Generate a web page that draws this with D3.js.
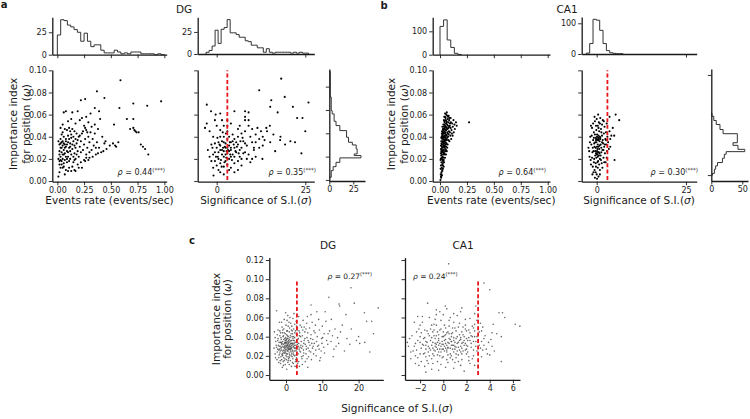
<!DOCTYPE html>
<html><head><meta charset="utf-8">
<script src="https://cdn.jsdelivr.net/npm/d3@7"></script>
<style>body{margin:0;background:#fff}</style>
</head><body>
<svg id="c" width="750" height="419"></svg>
<script>
// ---------------- DATA ----------------
const dgRatePts = [[0.59,0.091],[0.37,0.081],[0.44,0.075],[0.22,0.073],[0.26,0.074],[0.97,0.072],[0.71,0.070],[0.84,0.068],[0.58,0.066],[0.35,0.066],[0.06,0.062],[0.08,0.063],[0.14,0.062],[0.19,0.063],[0.31,0.061],[0.39,0.063],[0.27,0.058],[0.23,0.057],[0.40,0.056],[0.65,0.056],[0.71,0.056],[0.53,0.051],[0.68,0.047],[0.71,0.048],[0.72,0.046],[0.74,0.044],[0.76,0.044],[0.73,0.045],[0.78,0.033],[0.80,0.031],[0.82,0.029],[0.85,0.024],[0.57,0.035],[0.52,0.034],[0.54,0.032],[0.55,0.031],[0.46,0.029],[0.43,0.027],[0.41,0.026],[0.38,0.025],[0.36,0.024],[0.33,0.022],[0.30,0.021],[0.49,0.032],[0.45,0.036],[0.42,0.040],[0.38,0.047],[0.35,0.051],[0.32,0.049],[0.29,0.053],[0.27,0.046],[0.25,0.050],[0.21,0.055],[0.17,0.052],[0.13,0.056],[0.10,0.054],[0.05,0.051],[0.03,0.048],
[0.01,0.004],[0.02,0.008],[0.03,0.012],[0.02,0.015],[0.04,0.018],[0.01,0.020],[0.03,0.022],[0.05,0.020],[0.06,0.016],[0.07,0.025],[0.02,0.027],[0.04,0.030],[0.06,0.028],[0.08,0.031],[0.03,0.034],[0.05,0.036],[0.07,0.033],[0.09,0.027],[0.10,0.022],[0.11,0.030],[0.12,0.034],[0.08,0.038],[0.06,0.040],[0.04,0.042],[0.10,0.041],[0.13,0.039],[0.15,0.036],[0.14,0.029],[0.16,0.025],[0.12,0.020],[0.09,0.017],[0.11,0.012],[0.13,0.009],[0.08,0.010],[0.05,0.012],[0.17,0.030],[0.18,0.034],[0.19,0.027],[0.20,0.022],[0.21,0.031],[0.22,0.036],[0.20,0.040],[0.18,0.043],[0.16,0.045],[0.14,0.047],[0.12,0.045],[0.24,0.028],[0.25,0.033],[0.26,0.038],[0.23,0.043],[0.27,0.024],[0.28,0.030],[0.30,0.035],[0.29,0.040],[0.31,0.044],[0.33,0.038],[0.34,0.032],[0.32,0.028],[0.26,0.018],[0.22,0.017],[0.19,0.015],[0.17,0.020],[0.15,0.017],[0.14,0.013],[0.10,0.009],[0.07,0.006],[0.04,0.026],[0.03,0.030],[0.02,0.033],[0.01,0.036],[0.03,0.038],[0.05,0.044],[0.07,0.047],[0.09,0.046],[0.11,0.048],[0.02,0.024],[0.06,0.024],[0.08,0.022],[0.10,0.026],[0.12,0.027],[0.13,0.024],[0.15,0.022],[0.16,0.032],[0.14,0.033],[0.12,0.031],[0.10,0.035],[0.09,0.033],[0.07,0.030],[0.05,0.032],[0.04,0.035],[0.06,0.034],[0.08,0.036],[0.11,0.038],[0.13,0.042],[0.15,0.040],[0.17,0.038],[0.19,0.037],[0.21,0.041],[0.24,0.045],[0.26,0.048],[0.28,0.044],[0.22,0.026],[0.18,0.024],[0.16,0.019],[0.03,0.019],[0.05,0.024],[0.07,0.019],[0.09,0.020],[0.11,0.018],[0.02,0.018],[0.04,0.015],[0.06,0.013],[0.35,0.043],[0.37,0.035],[0.36,0.030],[0.39,0.030],[0.44,0.034],[0.30,0.026],[0.27,0.021],[0.25,0.019],[0.20,0.012],[0.23,0.012],[0.17,0.009],[0.16,0.010],[0.29,0.019]];

const dgSigPts = [[18.2,0.0925],[12.0,0.082],[19.2,0.076],[25.9,0.071],[15.4,0.073],[-2.8,0.069],[21.5,0.067],[15.1,0.067],[8.0,0.063],[9.0,0.062],[-1.6,0.063],[5.0,0.063],[-0.3,0.060],[1.0,0.061],[17.2,0.062],[22.7,0.057],[24.2,0.057],[8.0,0.055],[-3.3,0.048],[-2.8,0.052],[14.2,0.045],[25.0,0.045],[17.9,0.037],[20.8,0.036],[22.1,0.035],[19.3,0.033],[16.5,0.027],[23.9,0.025],[15.1,0.035],[12.9,0.020],[-0.9,0.005],
[-2,0.045],[-1,0.040],[-1.5,0.033],[-2.5,0.028],[-1,0.024],[-0.5,0.018],[0,0.014],[-1,0.012],[0.5,0.010],[1,0.008],[0,0.030],[0.5,0.035],[1,0.040],[1.5,0.028],[2,0.022],[2.5,0.030],[3,0.025],[3.5,0.032],[4,0.028],[2,0.035],[2.5,0.018],[3,0.015],[3.5,0.020],[4,0.035],[4.5,0.024],[5,0.030],[5.5,0.026],[6,0.033],[6.5,0.022],[7,0.030],[5,0.038],[4.5,0.042],[6,0.040],[7.5,0.036],[8,0.026],[8.5,0.032],[9,0.024],[9.5,0.040],[10,0.035],[10.5,0.028],[11,0.042],[12,0.038],[12.5,0.045],[13,0.040],[14,0.048],[15,0.050],[11.5,0.048],[10,0.047],[9,0.050],[8,0.045],[7,0.043],[6,0.047],[3,0.045],[2,0.050],[1,0.046],[0,0.050],[-0.5,0.055],[1.5,0.055],[3,0.050],[3,0.055],[4,0.052],[6.5,0.050],[8,0.058],[9,0.055],[5,0.016],[6,0.018],[7,0.014],[4,0.012],[2,0.013],[1,0.016],[0.5,0.020],[-0.5,0.026],[-0.5,0.034],[1,0.032],[1.5,0.036],[2,0.027],[2.5,0.024],[3.5,0.027],[4,0.022],[5,0.022],[3,0.038],[2,0.040],[4,0.030],[3,0.030],[1.5,0.024],[2.5,0.034],[5.5,0.035],[6.5,0.028],[7.5,0.025],[8.5,0.020],[9.5,0.017],[10,0.020],[11,0.022],[8,0.034],[7,0.020],[3.5,0.010],[5,0.008],[2,0.006],[6,0.010],[4.5,0.036],[3.5,0.040],[0.5,0.026],[-1.5,0.018],[-2,0.022],[1,0.028],[2.3,0.031],[3.7,0.035],[5.3,0.027],[6.7,0.036],[10.5,0.030],[12,0.030],[13,0.032],[11,0.035],[13.5,0.037],[16,0.042],[18,0.040],
[0.3,0.022],[1.2,0.019],[2.7,0.021],[3.2,0.028],[4.3,0.019],[5.7,0.031],[0.8,0.033],[1.8,0.030],[2.8,0.027],[3.8,0.024],[4.8,0.033],[-0.2,0.022],[1.4,0.013],[2.2,0.017],[6.2,0.025],[7.3,0.039],[2.6,0.043],[1.7,0.044],[-1.2,0.030],[0.2,0.039]];

const ca1RatePts = [[0.004,0.001],[0.011,0.003],[0.007,0.006],[0.018,0.005],[0.013,0.008],[0.022,0.009],[0.006,0.011],[0.016,0.012],[0.027,0.011],[0.009,0.014],[0.021,0.015],[0.034,0.013],[0.013,0.017],[0.028,0.018],[0.005,0.019],[0.038,0.017],[0.019,0.020],[0.024,0.022],[0.011,0.023],[0.046,0.021],[0.031,0.024],[0.008,0.025],[0.017,0.026],[0.041,0.025],[0.056,0.024],[0.026,0.027],[0.035,0.028],[0.014,0.029],[0.049,0.029],[0.063,0.027],[0.022,0.030],[0.031,0.031],[0.009,0.032],[0.044,0.032],[0.058,0.031],[0.019,0.033],[0.037,0.034],[0.027,0.035],[0.071,0.033],[0.052,0.035],[0.012,0.036],[0.043,0.037],[0.033,0.038],[0.021,0.038],[0.064,0.037],[0.087,0.036],[0.048,0.039],[0.016,0.040],[0.029,0.040],[0.039,0.041],[0.075,0.040],[0.057,0.042],[0.024,0.042],[0.096,0.041],[0.046,0.043],[0.034,0.044],[0.068,0.044],[0.019,0.045],[0.083,0.045],[0.052,0.046],[0.041,0.047],[0.107,0.046],[0.027,0.047],[0.062,0.048],[0.078,0.048],[0.036,0.049],[0.119,0.049],[0.049,0.050],[0.091,0.050],[0.031,0.051],[0.066,0.051],[0.056,0.052],[0.134,0.051],[0.043,0.053],[0.079,0.053],[0.101,0.053],[0.061,0.054],[0.037,0.055],[0.072,0.056],[0.148,0.053],[0.052,0.057],[0.088,0.057],[0.046,0.058],[0.067,0.059],[0.058,0.060],[0.081,0.059],[0.047,0.061],[0.063,0.062],[0.27,0.053],
[0.015,0.021],[0.023,0.019],[0.032,0.021],[0.012,0.027],[0.020,0.028],[0.029,0.026],[0.038,0.030],[0.047,0.027],[0.017,0.031],[0.025,0.033],[0.034,0.032],[0.042,0.034],[0.054,0.033],[0.014,0.034],[0.023,0.036],[0.031,0.036],[0.039,0.036],[0.058,0.038],[0.026,0.039],[0.035,0.039],[0.044,0.040],[0.053,0.041],[0.021,0.041],[0.031,0.043],[0.062,0.041],[0.073,0.043],[0.040,0.045],[0.049,0.044],[0.058,0.046],[0.029,0.046],[0.070,0.047],[0.086,0.049],[0.045,0.048],[0.054,0.049],[0.099,0.048],[0.074,0.050],[0.113,0.052],[0.041,0.051],[0.063,0.053],[0.085,0.055],[0.093,0.052],[0.125,0.055],[0.075,0.058],[0.099,0.057],[0.055,0.055],[0.026,0.016],[0.019,0.024],[0.036,0.025],[0.008,0.020],[0.010,0.029],[0.051,0.037],[0.066,0.039],[0.080,0.042],[0.092,0.044],[0.110,0.043],[0.047,0.031],[0.060,0.034],[0.026,0.044],[0.034,0.047],[0.041,0.054],[0.012,0.039],[0.017,0.043],[0.022,0.049],[0.040,0.058],[0.138,0.047],[0.155,0.050],[0.128,0.044],[0.117,0.041],[0.104,0.038],[0.079,0.037],[0.067,0.030],[0.055,0.028],[0.044,0.024],[0.035,0.019],[0.027,0.014],[0.020,0.010],[0.014,0.006],[0.009,0.004]];

const ca1SigPts = [[-2.3,0.030],[-2.0,0.022],[-1.8,0.040],[-1.6,0.015],[-1.5,0.033],[-1.3,0.048],[-1.2,0.026],[-1.0,0.037],[-0.9,0.008],[-0.8,0.044],[-0.7,0.020],[-0.6,0.031],[-0.5,0.054],[-0.4,0.027],[-0.3,0.039],[-0.2,0.013],[-0.1,0.035],[0.0,0.024],[0.1,0.042],[0.2,0.029],[0.3,0.050],[0.4,0.018],[0.5,0.037],[0.6,0.026],[0.7,0.045],[0.8,0.032],[0.9,0.010],[1.0,0.039],[1.1,0.023],[1.2,0.047],[1.3,0.030],[1.4,0.016],[1.5,0.041],[1.6,0.028],[1.7,0.055],[1.8,0.034],[1.9,0.021],[2.0,0.043],[2.1,0.031],[2.2,0.049],[2.3,0.025],[2.4,0.038],[2.5,0.017],[2.6,0.044],[2.7,0.033],[2.8,0.052],[2.9,0.027],[3.0,0.040],[3.2,0.035],[3.4,0.029],[3.6,0.045],[3.8,0.038],[4.1,0.041],
[0.0,0.038],[0.2,0.037],[0.4,0.039],[0.6,0.038],[0.8,0.036],[1.0,0.038],[-0.2,0.037],[0.1,0.040],[0.5,0.041],[0.9,0.040],[0.0,0.025],[0.2,0.024],[0.4,0.026],[-0.2,0.025],[0.6,0.023],[0.8,0.025],[-0.4,0.023],[0.3,0.022],[0.1,0.027],[-0.1,0.021],
[-1.1,0.030],[-0.7,0.034],[-0.3,0.030],[0.3,0.033],[0.7,0.029],[1.1,0.033],[1.5,0.035],[-0.9,0.027],[-0.5,0.042],[-0.1,0.046],[0.5,0.048],[0.9,0.052],[1.3,0.044],[-1.4,0.041],[-1.9,0.035],[-2.1,0.027],[-1.7,0.019],[-1.1,0.013],[-0.6,0.010],[0.0,0.006],[0.3,0.012],[0.7,0.015],[1.2,0.019],[1.6,0.012],[2.1,0.017],[-0.3,0.016],[-0.8,0.017],[-1.3,0.021],[0.2,0.017],[0.9,0.020],
[-0.6,0.058],[0.0,0.056],[0.4,0.060],[1.0,0.057],[-1.0,0.052],[-1.6,0.050],[1.5,0.051],[2.0,0.054],[-0.2,0.050],[0.6,0.053],
[-0.5,0.003],[0.1,0.002],[0.5,0.004],[-1.2,0.006],[0.9,0.006],[-0.3,0.008],
[0.1,0.031],[0.5,0.031],[-0.4,0.035],[1.3,0.026],[1.9,0.028],[2.3,0.033],[-0.8,0.039],[2.6,0.037],[2.8,0.021],[1.7,0.037],
[5.3,0.060],[6.3,0.055],[4.9,0.041],[5.0,0.019],[4.5,0.048],[3.6,0.058],[3.8,0.031]];

const dgSigPtsC = [[-2.1,0.031],[-1.8,0.027],[-1.5,0.034],[-1.2,0.029],[-0.9,0.025],[-0.7,0.032],[-0.4,0.028],[-0.2,0.036],[0.1,0.030],[0.3,0.026],[0.6,0.033],[0.8,0.029],[1.1,0.035],[1.3,0.027],[1.6,0.031],[1.9,0.038],[2.2,0.029],[2.5,0.034],[2.8,0.026],[3.1,0.032],
[-2.4,0.024],[-1.9,0.021],[-1.4,0.019],[-1.0,0.022],[-0.6,0.018],[-0.3,0.023],[0.0,0.020],[0.4,0.022],[0.7,0.017],[1.0,0.021],[1.4,0.024],[1.7,0.019],[2.0,0.023],[2.4,0.020],[2.7,0.016],[3.3,0.022],[3.6,0.027],[4.0,0.024],
[-2.2,0.038],[-1.7,0.041],[-1.3,0.037],[-0.8,0.040],[-0.5,0.044],[-0.1,0.039],[0.2,0.042],[0.5,0.038],[0.9,0.045],[1.2,0.041],[1.5,0.047],[1.8,0.043],[2.1,0.040],[2.6,0.046],[3.0,0.042],[3.4,0.038],[3.8,0.044],[4.2,0.035],[4.6,0.030],[5.0,0.036],
[-1.6,0.030],[-1.1,0.033],[-0.6,0.029],[-0.2,0.031],[0.2,0.034],[0.5,0.028],[0.9,0.031],[1.3,0.030],[1.8,0.033],[2.3,0.031],[-0.9,0.035],[-0.4,0.033],[0.0,0.027],[0.4,0.031],[0.7,0.036],[1.0,0.027],[1.5,0.028],[-1.3,0.026],[-0.1,0.024],[0.6,0.025],
[-2.8,0.035],[-2.6,0.029],[-3.0,0.022],[-2.5,0.016],[-2.0,0.013],[-1.5,0.012],[-0.8,0.014],[-0.2,0.011],[0.5,0.013],[1.2,0.015],[2.0,0.012],[2.9,0.018],[3.5,0.014],[4.3,0.019],[-1.0,0.008],[0.2,0.006],[1.5,0.009],[-2.2,0.047],[-1.1,0.050],[0.0,0.052],[0.8,0.055],[1.6,0.051],[2.4,0.053],[3.2,0.049],[-0.5,0.058],[0.5,0.062],[1.9,0.059],[2.8,0.056],[-1.8,0.055],[-3.2,0.045],[-2.6,0.067],[3.5,0.061],[2.2,0.064],
[4.5,0.041],[5.2,0.045],[5.8,0.039],[6.3,0.034],[6.9,0.042],[7.4,0.037],[8.0,0.044],[8.6,0.040],[9.2,0.047],[9.8,0.038],[10.5,0.043],[11.2,0.036],[12.0,0.046],[12.8,0.041],[13.5,0.048],[14.2,0.039],[15.0,0.045],[4.8,0.026],[5.5,0.022],[6.1,0.028],[6.8,0.024],[7.5,0.030],[8.2,0.026],[9.0,0.031],[9.7,0.025],[10.4,0.029],[11.5,0.032],[5.0,0.050],[5.7,0.054],[6.5,0.049],[7.2,0.055],[8.1,0.052],[9.0,0.058],[10.0,0.051],[11.0,0.056],[4.4,0.017],[5.3,0.014],[6.2,0.019],[7.0,0.016],[8.3,0.020],[9.5,0.018],[4.1,0.031],[4.9,0.033],[5.6,0.030],[6.6,0.031],[7.8,0.033],[3.9,0.052],[4.7,0.057],[5.9,0.061],[6.9,0.063],[3.7,0.009],[4.5,0.011],[6.0,0.008],
[17.9,0.091],[11.8,0.081],[18.8,0.075],[25.4,0.070],[14.6,0.074],[14.8,0.072],[6.9,0.073],[16.5,0.063],[21.6,0.065],[22.2,0.056],[23.6,0.056],[24.1,0.043],[19.4,0.036],[20.3,0.033],[21.7,0.034],[17.6,0.032],[16.1,0.025],[23.1,0.024],[13.0,0.019],[12.5,0.058],[15.5,0.052],[18.0,0.048],[20.0,0.040],[13.8,0.030],[16.8,0.038],[10.8,0.066],[8.5,0.066],
[-1.9,0.034],[-1.4,0.028],[-0.7,0.026],[-0.3,0.034],[0.1,0.037],[0.3,0.029],[0.6,0.030],[1.1,0.032],[1.4,0.036],[1.7,0.026],[2.0,0.030],[2.3,0.036],[2.6,0.028],[2.9,0.035],[3.2,0.029],[-0.6,0.037],[-1.2,0.032],[0.0,0.033],[0.8,0.027],[1.2,0.025],[-2.3,0.027],[-1.7,0.023],[-0.9,0.020],[-0.4,0.025],[0.3,0.019],[0.9,0.023],[1.6,0.022],[2.2,0.025],[2.8,0.021],[3.5,0.033],[3.9,0.029],[-1.5,0.044],[-0.9,0.047],[-0.2,0.043],[0.4,0.046],[1.0,0.049],[1.7,0.046],[2.4,0.044],[3.1,0.047],[3.7,0.041],[-2.0,0.018],[-1.2,0.016],[-0.5,0.015],[0.1,0.016],[0.8,0.019],[1.9,0.017],[2.6,0.014],[-0.1,0.029],[0.5,0.035],[1.5,0.033],
[-2.7,0.031],[-2.3,0.036],[-1.9,0.030],[-1.6,0.025],[-1.4,0.039],[-1.1,0.021],[-0.9,0.030],[-0.7,0.041],[-0.5,0.023],[-0.4,0.030],[-0.2,0.026],[-0.1,0.034],[0.1,0.022],[0.2,0.031],[0.3,0.038],[0.4,0.025],[0.5,0.032],[0.6,0.040],[0.7,0.027],[0.8,0.034],[0.9,0.018],[1.0,0.030],[1.1,0.039],[1.2,0.028],[1.3,0.033],[1.4,0.020],[1.5,0.036],[1.6,0.029],[1.7,0.040],[1.8,0.025],[1.9,0.032],[2.0,0.036],[2.1,0.021],[2.2,0.033],[2.3,0.028],[2.4,0.039],[2.5,0.025],[2.7,0.031],[2.8,0.043],[3.0,0.024],[3.2,0.037],[3.4,0.030],[3.6,0.046],[3.8,0.025],[4.0,0.040],[4.3,0.028],[4.6,0.047],[4.9,0.023],[5.2,0.038],[5.6,0.027],[6.0,0.044],[6.4,0.025],[6.8,0.038],[7.3,0.028],[7.7,0.046],[8.4,0.035],[9.1,0.027],[9.9,0.033],[-2.0,0.026],[-1.3,0.034],[-0.8,0.023],[-0.3,0.038],[0.0,0.036],[0.4,0.041],[0.9,0.037],[1.4,0.043],[-1.7,0.046],[-0.6,0.048],[0.6,0.051],[1.3,0.054],[2.1,0.048],[2.9,0.051],[-2.4,0.042],[-1.0,0.044],[0.2,0.046],[-0.3,0.017],[0.6,0.015],[1.8,0.013],[2.5,0.009],[-1.6,0.015],[-2.9,0.018],[-0.7,0.010],[0.9,0.011],[3.2,0.012],[-1.2,0.055],[0.3,0.057],[1.1,0.060],[4.3,0.050],[5.5,0.048],[3.0,0.063],[-0.1,0.065],[-3.3,0.028],[-3.0,0.039],[5.3,0.032],[6.1,0.036],[7.1,0.033],[8.7,0.030],[10.1,0.039],[11.6,0.043],[12.4,0.035],[13.2,0.027],[14.5,0.033],[4.7,0.020],[5.8,0.017],[7.6,0.022],[9.3,0.015],[10.6,0.023]];

const ca1SigPtsC = [[-2.6,0.025],[-2.4,0.033],[-2.2,0.018],[-2.0,0.040],[-1.9,0.028],[-1.7,0.022],[-1.6,0.047],[-1.5,0.035],[-1.4,0.015],[-1.3,0.030],[-1.2,0.041],[-1.1,0.026],[-1.0,0.052],[-0.9,0.034],[-0.8,0.020],[-0.7,0.038],[-0.6,0.029],[-0.5,0.045],[-0.4,0.024],[-0.3,0.033],[-0.2,0.011],[-0.1,0.040],[0.0,0.027],[0.1,0.036],[0.2,0.049],[0.3,0.031],[0.4,0.021],[0.5,0.043],[0.6,0.028],[0.7,0.035],[0.8,0.016],[0.9,0.039],[1.0,0.030],[1.1,0.046],[1.2,0.025],[1.3,0.034],[1.4,0.054],[1.5,0.037],[1.6,0.022],[1.7,0.042],[1.8,0.031],[1.9,0.048],[2.0,0.027],[2.1,0.036],[2.2,0.019],[2.3,0.044],[2.4,0.033],[2.5,0.051],[2.6,0.026],[2.7,0.040],[2.8,0.030],[2.9,0.057],[3.0,0.036],[3.1,0.045],
[-2.8,0.017],[-2.3,0.045],[-2.1,0.010],[-1.8,0.055],[-1.6,0.009],[-1.2,0.060],[-1.0,0.006],[-0.7,0.058],[-0.4,0.005],[0.0,0.063],[0.2,0.008],[0.6,0.060],[0.9,0.007],[1.2,0.062],[1.5,0.010],[1.9,0.058],[2.3,0.012],[2.7,0.053],[-3.0,0.030],[-2.9,0.038],
[-1.3,0.024],[-0.9,0.028],[-0.6,0.032],[-0.3,0.027],[0.0,0.032],[0.2,0.028],[0.4,0.034],[0.6,0.037],[0.8,0.031],[1.0,0.027],[1.2,0.033],[-1.1,0.036],[-0.8,0.041],[-0.4,0.038],[0.1,0.041],[0.3,0.044],[0.7,0.040],[1.1,0.038],[1.4,0.042],[1.8,0.036],[2.2,0.039],[-1.5,0.019],[-1.0,0.017],[-0.5,0.021],[-0.1,0.018],[0.3,0.024],[0.7,0.020],[1.1,0.018],[1.6,0.028],[2.0,0.022],[2.5,0.017],
[-1.7,0.031],[-2.0,0.034],[-2.3,0.026],[-1.9,0.014],[-0.9,0.012],[0.4,0.013],[1.3,0.014],[2.1,0.030],[2.6,0.035],[2.9,0.025],[3.2,0.028],[-0.2,0.048],[0.5,0.051],[0.9,0.055],[-0.6,0.052],[1.7,0.050],[2.0,0.046],[-1.4,0.046],[-0.8,0.047],[0.0,0.045],
[-0.5,0.034],[-0.2,0.030],[0.1,0.025],[0.4,0.028],[0.7,0.031],[1.0,0.034],[1.3,0.029],[1.6,0.033],[-0.7,0.025],[-0.1,0.035],[0.5,0.038],[0.9,0.024],[1.5,0.024],[-1.2,0.028],[-0.4,0.042],[0.2,0.033],[0.8,0.044],[1.9,0.026],[-1.6,0.039],[2.4,0.041],
[3.3,0.035],[3.5,0.031],[3.6,0.041],[3.4,0.026],[3.8,0.022],[4.2,0.030],[4.0,0.021],[3.3,0.046],[3.2,0.054],[3.4,0.050],
[0.46,0.116],[3.5,0.096],[4.0,0.089],[4.8,0.065],[5.1,0.065],[5.3,0.060],[6.2,0.053],[4.3,0.053],[5.0,0.014],[-1.35,0.075],[0.17,0.072],[-0.6,0.068],[1.6,0.070],[2.7,0.064],[4.6,0.043],[5.0,0.040],[4.2,0.044],[-2.5,0.055],[-2.2,0.061],[3.0,0.008],[1.8,0.004],[-1.5,0.003],[2.8,0.072],[-0.3,0.066],[6.6,0.051],
[-2.5,0.030],[-2.2,0.036],[-2.0,0.022],[-1.8,0.032],[-1.7,0.038],[-1.5,0.027],[-1.4,0.034],[-1.3,0.043],[-1.2,0.020],[-1.0,0.031],[-0.9,0.045],[-0.8,0.026],[-0.7,0.033],[-0.6,0.041],[-0.5,0.027],[-0.4,0.031],[-0.3,0.047],[-0.2,0.024],[-0.1,0.032],[0.0,0.040],[0.1,0.030],[0.2,0.037],[0.3,0.026],[0.4,0.045],[0.5,0.033],[0.6,0.022],[0.7,0.043],[0.8,0.027],[0.9,0.036],[1.0,0.049],[1.1,0.029],[1.2,0.040],[1.3,0.021],[1.4,0.036],[1.5,0.030],[1.6,0.045],[1.7,0.025],[1.8,0.040],[1.9,0.033],[2.0,0.038],[2.1,0.024],[2.2,0.047],[2.3,0.036],[2.4,0.029],[2.5,0.040],[2.6,0.020],[2.7,0.046],[2.8,0.035],[2.9,0.040],[3.1,0.031],[-2.7,0.041],[-2.4,0.020],[-2.1,0.048],[-1.9,0.044],[-1.6,0.023],[-1.1,0.048],[-0.8,0.053],[-0.5,0.014],[-0.2,0.057],[0.1,0.052],[0.3,0.016],[0.5,0.057],[0.8,0.049],[1.0,0.013],[1.3,0.050],[1.6,0.016],[1.9,0.052],[2.2,0.015],[2.6,0.049],[-1.3,0.012],[-0.6,0.063],[0.9,0.064],[2.3,0.059],[-2.0,0.052],[-2.8,0.024],[-3.1,0.034],[-0.3,0.020],[0.6,0.018],[1.4,0.026],[2.0,0.031],[-1.0,0.039],[-0.4,0.036],[0.2,0.042],[0.7,0.035],[1.5,0.039],[-1.5,0.031],[-0.9,0.022],[0.0,0.019],[1.1,0.022],[1.7,0.034],[-0.1,0.027],[0.4,0.029],[0.9,0.031],[-0.7,0.030],[3.5,0.038],[3.7,0.027],[3.9,0.034],[4.4,0.025],[4.1,0.037],[3.3,0.019],[-1.8,0.061],[1.5,0.066],[0.3,0.069],[-2.4,0.012],[2.7,0.010]];

const dgRateHistStart = 0, dgRateHistWidth = 0.03125;
const dgRateHistCounts = [22,39,38,33,31,28,25,15,24,15,9,11,11,5,2,2,2,5,3,1,2,1,3,3,3,1,1,1,1,0,1,0];
const dgSigHistStart = -3.0, dgSigHistWidth = 0.85;
const dgSigHistCounts = [2,4,9,27,12,28,30,39,24,24,22,19,19,15,14,10,10,7,7,2,6,2,1,2,2,2,2,2,1,2,1,2,1,1];
const ca1RateHistStart = 0, ca1RateHistWidth = 0.0333;
const ca1RateHistCounts = [121,149,63,31,6,1];
const ca1SigHistStart = -2.9, ca1SigHistWidth = 0.935;
const ca1SigHistCounts = [3,34,113,110,77,34,11,4,2,1,1];
const dgOmegaHistEdges = [0.0023,0.008,0.0114,0.0151,0.0189,0.0209,0.0223,0.0266,0.030,0.0323,0.0366,0.0423,0.0466,0.0503,0.0566,0.0594,0.065,0.071,0.077,0.083,0.089,0.093];
const dgOmegaHistCounts = [2,4,7,11,33,26,29,28,24,20,18,11,7,5,3,2,2,1,1,1,1];
const ca1OmegaHistEdges = [0,0.0017,0.0059,0.0092,0.0125,0.0168,0.0208,0.0234,0.0257,0.0297,0.0323,0.0413,0.0455,0.0505,0.0545,0.0587,0.062];
const ca1OmegaHistCounts = [2,5,7,10,18,21,24,54,43,35,42,19,14,8,4,1];

const rateTicks = [0,0.25,0.5,0.75,1.0];
const rateTickLabels = ["0.00","0.25","0.50","0.75","1.00"];
const omegaTicks = [0,0.02,0.04,0.06,0.08,0.10];
const omegaTickLabels = ["0.00","0.02","0.04","0.06","0.08","0.10"];
const omegaTicksC = [0,0.02,0.04,0.06,0.08,0.10,0.12];
const omegaTickLabelsC = ["0.00","0.02","0.04","0.06","0.08","0.10","0.12"];
const sigTicks = [0,25];
const sigTicksDGc = [0,10,20];
const sigTicksCA1c = [-2,0,2,4,6];
const sigThreshold = 3;
const rhoValues = {dgRate:"0.44", dgSig:"0.35", ca1Rate:"0.64", ca1Sig:"0.30", dgC:"0.27", ca1C:"0.24"};

// ---------------- DRAWING ----------------
const FONT = '"DejaVu Sans", Verdana, sans-serif';
const INK = "#1a1a1a";
const svg = d3.select("#c");
svg.append("rect").attr("width",750).attr("height",419).attr("fill","#fff");

function addAxis(type, scale, pos, ticks, labels, fs) {
  const ax = (type === "bottom" ? d3.axisBottom(scale) : d3.axisLeft(scale))
    .tickValues(ticks).tickSizeInner(3.5).tickSizeOuter(0).tickPadding(2)
    .tickFormat((d,i) => labels ? labels[i] : "");
  const g = svg.append("g")
    .attr("transform", type === "bottom" ? `translate(0,${pos})` : `translate(${pos},0)`)
    .call(ax);
  g.select(".domain").attr("stroke", INK).attr("stroke-width", 1.3);
  g.selectAll(".tick line").attr("stroke", INK).attr("stroke-width", 0.9);
  g.selectAll(".tick text").attr("font-size", fs).attr("font-family", FONT).attr("fill", INK);
}
function scatter(pts, xs, ys, r, color, op) {
  svg.append("g").selectAll("circle").data(pts).join("circle")
    .attr("cx", d => xs(d[0])).attr("cy", d => ys(d[1]))
    .attr("r", r).attr("fill", color).attr("opacity", op);
}
function edgesOf(start, w, n) { return d3.range(n + 1).map(i => start + i * w); }
function histTop(edges, counts, xs, ys) {
  const pts = [[edges[0], 0]];
  counts.forEach((c, i) => { pts.push([edges[i], c]); pts.push([edges[i + 1], c]); });
  pts.push([edges[edges.length - 1], 0]);
  svg.append("path").attr("d", d3.line().x(d => xs(d[0])).y(d => ys(d[1]))(pts))
    .attr("fill", "none").attr("stroke", "#333").attr("stroke-width", 1);
}
function histRight(edges, counts, xs, ys) {
  const pts = [[0, edges[0]]];
  counts.forEach((c, i) => { pts.push([c, edges[i]]); pts.push([c, edges[i + 1]]); });
  pts.push([0, edges[edges.length - 1]]);
  svg.append("path").attr("d", d3.line().x(d => xs(d[0])).y(d => ys(d[1]))(pts))
    .attr("fill", "none").attr("stroke", "#333").attr("stroke-width", 1);
}
function redLine(xs, ys, x, y0, y1) {
  svg.append("line").attr("x1", xs(x)).attr("x2", xs(x)).attr("y1", ys(y0)).attr("y2", ys(y1))
    .attr("stroke", "#e8161b").attr("stroke-width", 1.8).attr("stroke-dasharray", "4,2.4");
}
function text(x, y, s, fs, opts = {}) {
  const t = svg.append("text").attr("x", x).attr("y", y).attr("font-size", fs)
    .attr("font-family", FONT).attr("fill", INK).attr("text-anchor", opts.anchor || "middle");
  if (opts.weight) t.attr("font-weight", opts.weight);
  if (opts.rotate) t.attr("transform", `rotate(-90,${x},${y})`);
  t.text(s);
  return t;
}
function rho(x, y, val, fs, anchor) {
  const t = svg.append("text").attr("x", x).attr("y", y).attr("font-size", fs)
    .attr("font-family", FONT).attr("fill", INK).attr("text-anchor", anchor);
  t.append("tspan").attr("font-style", "italic").text("ρ");
  t.append("tspan").text(" = " + val);
  t.append("tspan").attr("font-size", fs * 0.7).attr("dy", -3).text("(***)");
}
function yLabel(xb1, xb2, yc, fs) {
  text(xb1, yc, "Importance index", fs, {rotate: true});
  const t = text(xb2, yc, "", fs, {rotate: true});
  t.append("tspan").text("for position (");
  t.append("tspan").attr("font-style", "italic").text("ω");
  t.append("tspan").text(")");
}
function sigLabel(x, y, fs) {
  const t = text(x, y, "", fs);
  t.append("tspan").text("Significance of S.I.(");
  t.append("tspan").attr("font-style", "italic").text("σ");
  t.append("tspan").text(")");
}

const TFS = 8;
const LFS = 10.5;
const RFS = 8;

const yTop = d3.scaleLinear().domain([-0.0006, 0.1003]).range([181.7, 70]);

// ---- Panel a1
const xA1 = d3.scaleLinear().domain([-0.047, 1.022]).range([52.3, 166.7]);
const hA1 = d3.scaleLinear().domain([0, 41.7]).range([54.7, 17.3]);
histTop(edgesOf(dgRateHistStart, dgRateHistWidth, dgRateHistCounts.length), dgRateHistCounts, xA1, hA1);
addAxis("bottom", xA1, 54.7, rateTicks, null, TFS);
addAxis("left", hA1, 52.3, [0,25], ["0","25"], TFS);
scatter(dgRatePts, xA1, yTop, 1.05, "#000", 1);
addAxis("bottom", xA1, 181.7, rateTicks, rateTickLabels, TFS);
addAxis("left", yTop, 52.3, omegaTicks, omegaTickLabels, TFS);
rho(165, 175, rhoValues.dgRate, RFS, "end");

// ---- Panel a2
const xA2 = d3.scaleLinear().domain([-5.36, 27.54]).range([197.7, 314.3]);
const hA2 = d3.scaleLinear().domain([0, 41.6]).range([54, 17.3]);
histTop(edgesOf(dgSigHistStart, dgSigHistWidth, dgSigHistCounts.length), dgSigHistCounts, xA2, hA2);
addAxis("bottom", xA2, 54, sigTicks, null, TFS);
addAxis("left", hA2, 197.7, [0,25], ["0","25"], TFS);
scatter(dgSigPts, xA2, yTop, 1.05, "#000", 1);
redLine(xA2, yTop, sigThreshold, 0.001, 0.1);
addAxis("bottom", xA2, 181.7, sigTicks, ["0","25"], TFS);
addAxis("left", yTop, 197.7, omegaTicks, null, TFS);
rho(316, 175, rhoValues.dgSig, RFS, "end");

const rxA = d3.scaleLinear().domain([0, 37.2]).range([329.3, 365]);
const ryA = d3.scaleLinear().domain([-0.0009, 0.0951]).range([181, 69]);
histRight(dgOmegaHistEdges, dgOmegaHistCounts, rxA, ryA);
addAxis("left", ryA, 329.3, [0,0.02,0.04,0.06,0.08], null, TFS);
addAxis("bottom", rxA, 181, [0,25], ["0","25"], TFS);

// ---- Panel b1
const xB1 = d3.scaleLinear().domain([-0.0678, 1.0214]).range([432.7, 550]);
const hB1 = d3.scaleLinear().domain([0, 160]).range([54.7, 17.3]);
histTop(edgesOf(ca1RateHistStart, ca1RateHistWidth, ca1RateHistCounts.length), ca1RateHistCounts, xB1, hB1);
addAxis("bottom", xB1, 54.7, rateTicks, null, TFS);
addAxis("left", hB1, 432.7, [0,100], ["0","100"], TFS);
scatter(ca1RatePts, xB1, yTop, 1.05, "#000", 1);
addAxis("bottom", xB1, 181.7, rateTicks, rateTickLabels, TFS);
addAxis("left", yTop, 432.7, omegaTicks, omegaTickLabels, TFS);
rho(546, 175, rhoValues.ca1Rate, RFS, "end");

// ---- Panel b2
const xB2 = d3.scaleLinear().domain([-4.2, 28.0]).range([581.7, 696.7]);
const hB2 = d3.scaleLinear().domain([0, 120.5]).range([54, 17]);
histTop(edgesOf(ca1SigHistStart, ca1SigHistWidth, ca1SigHistCounts.length), ca1SigHistCounts, xB2, hB2);
addAxis("bottom", xB2, 54, sigTicks, null, TFS);
addAxis("left", hB2, 581.7, [0,100], ["0","100"], TFS);
scatter(ca1SigPts, xB2, yTop, 1.05, "#000", 1);
redLine(xB2, yTop, sigThreshold, 0.001, 0.1);
addAxis("bottom", xB2, 181.7, sigTicks, ["0","25"], TFS);
addAxis("left", yTop, 581.7, omegaTicks, null, TFS);
rho(698, 175, rhoValues.ca1Sig, RFS, "end");

const rxB = d3.scaleLinear().domain([0, 59.2]).range([711.3, 748]);
const ryB = d3.scaleLinear().domain([-0.0059, 0.1059]).range([181, 69]);
histRight(ca1OmegaHistEdges, ca1OmegaHistCounts, rxB, ryB);
addAxis("left", ryB, 711.3, [0,0.1], null, TFS);
addAxis("bottom", rxB, 181, [0,50], ["0","50"], TFS);

// ---- Panel c
const yC = d3.scaleLinear().domain([-0.005, 0.1225]).range([379.8, 257.6]);
const xC1 = d3.scaleLinear().domain([-4.6, 26.8]).range([269.3, 383.3]);
const xC2 = d3.scaleLinear().domain([-3.3, 6.61]).range([405, 520]);
scatter(dgSigPtsC, xC1, yC, 0.8, "#444", 0.8);
redLine(xC1, yC, sigThreshold, 0, 0.1);
addAxis("bottom", xC1, 379.8, sigTicksDGc, ["0","10","20"], TFS);
addAxis("left", yC, 269.3, omegaTicksC, omegaTickLabelsC, TFS);
rho(372, 279, rhoValues.dgC, 7.5, "end");
scatter(ca1SigPtsC, xC2, yC, 0.8, "#444", 0.8);
redLine(xC2, yC, sigThreshold, 0, 0.1);
addAxis("bottom", xC2, 379.8, sigTicksCA1c, ["\u22122","0","2","4","6"], TFS);
addAxis("left", yC, 405, omegaTicksC, null, TFS);
rho(413, 279, rhoValues.ca1C, 7.5, "start");

// ---- Text
text(4, 8, "a", 10, {weight: "bold"});
text(384, 9, "b", 10, {weight: "bold"});
text(192, 244, "c", 10, {weight: "bold"});
text(184, 13, "DG", 10.5);
text(567, 13, "CA1", 10.5);
text(328, 249, "DG", 10.5);
text(463, 249, "CA1", 10.5);
text(109.5, 204, "Events rate (events/sec)", LFS);
sigLabel(256, 204, LFS);
text(491.3, 204, "Events rate (events/sec)", LFS);
sigLabel(639, 204, LFS);
sigLabel(397, 412, LFS);
yLabel(17, 30, 124, LFS);
yLabel(395, 408, 124, LFS);
yLabel(219.5, 231, 319, LFS);
</script>
</body></html>
